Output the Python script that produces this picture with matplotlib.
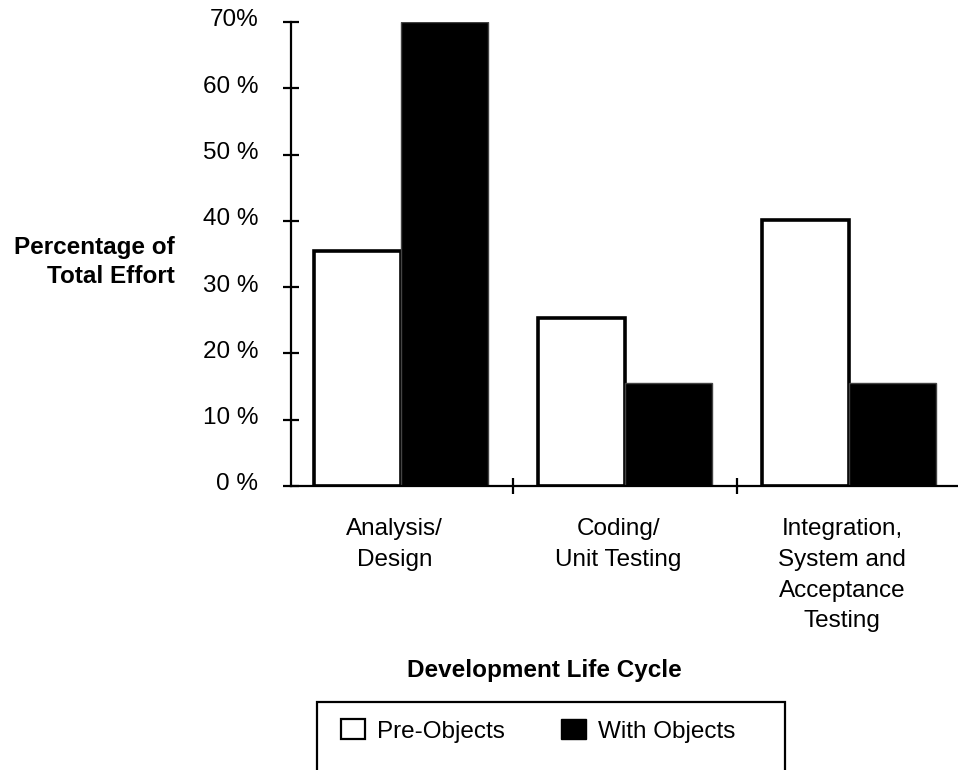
import numpy as np
import matplotlib
matplotlib.use('Agg')
import matplotlib.pyplot as plt
from matplotlib.patches import Patch, Rectangle
from matplotlib.transforms import ScaledTranslation

plt.rcParams['font.family'] = ['Liberation Sans', 'DejaVu Sans']

phases = ['Analysis/\nDesign', 'Coding/\nUnit Testing',
          'Integration,\nSystem and\nAcceptance\nTesting']
pre_objects = [35.5, 25.3, 40.2]
with_objects = [70.0, 15.5, 15.5]
y_ticks = [0, 10, 20, 30, 40, 50, 60, 70]
y_tick_labels = ['0 %', '10 %', '20 %', '30 %', '40 %', '50 %', '60 %', '70%']

fs = 17.5
W, H = 958, 770

fig = plt.figure(figsize=(W / 100, H / 100), dpi=100)
ax = fig.add_axes([291 / W, 1 - 486 / H, (957 - 291) / W, (486 - 22) / H])

x = np.arange(len(phases))
bw = 0.39
ax.bar(x - bw / 2, pre_objects, bw, color='white', edgecolor='black',
       linewidth=2.6, zorder=2)
ax.bar(x + bw / 2, with_objects, bw, color='black', edgecolor='#444444',
       linewidth=1.0, zorder=2)

ax.set_xlim(-0.491, 2.482)
ax.set_ylim(0, 70)

for s in ('top', 'right'):
    ax.spines[s].set_visible(False)
for s in ('left', 'bottom'):
    ax.spines[s].set_linewidth(1.6)
    ax.spines[s].set_zorder(3)

ax.set_yticks(y_ticks)
ax.set_yticklabels(y_tick_labels)
ax.set_xticks([0.5, 1.5])
ax.set_xticklabels([])
ax.tick_params(axis='both', direction='inout', length=11.5, width=1.6,
               labelsize=fs)
ax.tick_params(axis='y', pad=18)

# y labels sit a little above their ticks
lift = ScaledTranslation(0, 4 / 100, fig.dpi_scale_trans)
for t in ax.yaxis.get_major_ticks():
    t.label1.set_transform(t.label1.get_transform() + lift)

for i, name in enumerate(phases):
    ax.annotate(name, xy=(i - 0.03, 0), xycoords=('data', 'axes fraction'),
                xytext=(0, -23), textcoords='offset points',
                ha='center', va='top', fontsize=fs, linespacing=1.52)

fig.text(175 / W, 1 - 262 / H, 'Percentage of\nTotal Effort', ha='right',
         va='center', multialignment='right', fontsize=fs,
         fontweight='bold', linespacing=1.3)
fig.text(544 / W, 1 - 671 / H, 'Development Life Cycle', ha='center',
         va='center', fontsize=fs, fontweight='bold')

# legend box runs off the bottom edge
fig.patches.append(Rectangle((317 / W, -0.05), (785 - 317) / W,
                             0.05 + 1 - 702 / H, transform=fig.transFigure,
                             facecolor='none', edgecolor='black',
                             linewidth=1.6))
handles = [Patch(facecolor='white', edgecolor='black', linewidth=1.6,
                 label='Pre-Objects'),
           Patch(facecolor='black', edgecolor='black', label='With Objects')]
fig.legend(handles=handles, loc='center left',
           bbox_to_anchor=(341 / W, 1 - 731 / H), ncol=2, frameon=False,
           fontsize=fs, borderpad=0, borderaxespad=0, handlelength=1.0,
           handleheight=0.9, handletextpad=0.5, columnspacing=2.3)

fig.savefig('out.png', dpi=100)
